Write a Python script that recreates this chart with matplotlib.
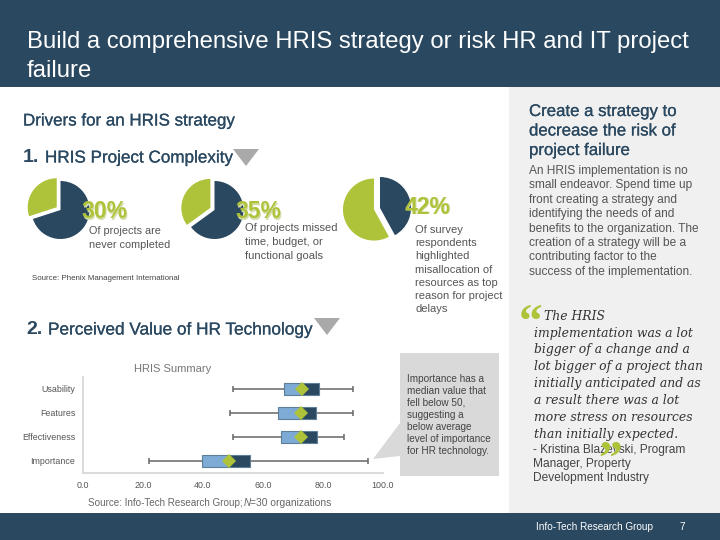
import matplotlib
matplotlib.use("Agg")
import matplotlib.pyplot as plt
from matplotlib.patches import Rectangle, Polygon
import matplotlib.patheffects as pe
import numpy as np

plt.rcParams['font.family'] = ['Liberation Sans', 'DejaVu Sans']

NAVY = '#2a4860'
GREEN = '#aec23a'
LBLUE = '#7dabd6'
GREY = '#666666'
TXT = '#555555'

# pie values: [green share, navy share]
pie_vals = [[30, 70], [35, 65], [58, 42]]
pie_labels = ['30%', '35%', '42%']

# HRIS summary box values
cats = ['Usability', 'Features', 'Effectiveness', 'Importance']
whisk_lo = [50, 49, 50, 22]
q1 = [67, 65, 66, 39.5]
diamond = [73, 72.5, 72.5, 48.8]
q3 = [78.5, 77.5, 78, 55.7]
whisk_hi = [90, 90, 87, 95]
xticks = [0, 20, 40, 60, 80, 100]

fig = plt.figure(figsize=(7.2, 5.4), dpi=100)

def pixel_axes():
    a = fig.add_axes([0, 0, 1, 1])
    a.set_xlim(0, 720)
    a.set_ylim(540, 0)
    a.axis('off')
    return a

bg = pixel_axes()
bg.add_patch(Rectangle((509, 86), 211, 428, color='#f0f0f0', lw=0))
bg.add_patch(Rectangle((0, 0), 720, 87, color=NAVY, lw=0))
bg.add_patch(Rectangle((0, 513), 720, 27, color=NAVY, lw=0))
bg.add_patch(Polygon([(233, 149), (259, 149), (246, 166)], color='#a9a9a9', lw=0))
bg.add_patch(Polygon([(314, 318), (340, 318), (327, 335)], color='#a9a9a9', lw=0))
bg.add_patch(Polygon([(400, 353), (499, 353), (499, 476), (400, 476), (400, 456),
                     (373, 459), (400, 423)], color='#d9d9d9', lw=0))

# pies
def pie(cx, cy, r, vals, gap):
    w = 2.6 * r
    ax = fig.add_axes([(cx - w / 2) / 720, 1 - (cy + w / 2) / 540, w / 720, w / 540])
    ax.pie(vals, colors=[GREEN, NAVY], startangle=90, counterclock=True,
           explode=[gap, 0], radius=1, wedgeprops={'lw': 0})
    ax.set_xlim(-1.3, 1.3)
    ax.set_ylim(-1.3, 1.3)

pie(60.5, 210, 29, pie_vals[0], 0.16)
pie(214.5, 210, 29, pie_vals[1], 0.16)
pie(380, 208, 31, pie_vals[2], 0.2)

# box chart
ax = fig.add_axes([83 / 720, 1 - 473 / 540, 300 / 720, 96 / 540])
y = np.arange(len(cats))
ax.hlines(y, whisk_lo, whisk_hi, color=GREY, lw=1.1, zorder=1)
ax.plot(whisk_lo, y, '|', color=GREY, ms=4.5, mew=1.1, zorder=1)
ax.plot(whisk_hi, y, '|', color=GREY, ms=4.5, mew=1.1, zorder=1)
left = np.array(q1)
mid = np.array(diamond)
ax.barh(y, mid - left, left=left, height=0.5, color=LBLUE, edgecolor='#5f7f99', lw=0.8, zorder=2)
ax.barh(y, np.array(q3) - mid, left=mid, height=0.5, color=NAVY, edgecolor='#5f7f99', lw=0.8, zorder=2)
ax.plot(diamond, y, 'D', color=GREEN, ms=7, mew=0, zorder=3)
ax.set_xlim(0, 100)
ax.set_ylim(3.5, -0.5)
ax.set_yticks(y)
ax.set_yticklabels(cats)
ax.set_xticks(xticks)
ax.set_xticklabels(['%.1f' % v for v in xticks])
ax.tick_params(length=0, labelsize=6.4, labelcolor=TXT)
ax.tick_params(axis='y', pad=5.5)
ax.tick_params(axis='x', pad=6)
for s in ['top', 'right']:
    ax.spines[s].set_visible(False)
for s in ['left', 'bottom']:
    ax.spines[s].set_color('#d9d9d9')
    ax.spines[s].set_linewidth(1.3)
ax.patch.set_alpha(0)

# all slide text goes on top of the pies
fg = pixel_axes()
heavy = [pe.withStroke(linewidth=0.15, foreground=NAVY)]

def put(x, y, s, size, color=TXT, **kw):
    fg.text(x, y, s, fontsize=size, color=color, va='center', ha=kw.pop('ha', 'left'), **kw)

def lines(x, y0, step, rows, size, color=TXT, **kw):
    for i, r in enumerate(rows):
        put(x, y0 + i * step, r, size, color, **kw)

# header, footer
put(27, 42, 'Build a comprehensive HRIS strategy or risk HR and IT project', 17.2, 'white')
put(27, 71, 'failure', 17.2, 'white')
put(536, 527.5, 'Info-Tech Research Group', 7.2, 'white')
put(680, 527.5, '7', 7.2, 'white')

# left headings
put(23, 121, 'Drivers for an HRIS strategy', 12.2, NAVY, path_effects=heavy)
put(23, 158, '1.', 14, NAVY, fontweight='bold')
put(45, 158, 'HRIS Project Complexity', 12.3, NAVY, path_effects=heavy)
put(26, 330, '2.', 14, NAVY, fontweight='bold')
put(48, 330, 'Perceived Value of HR Technology', 12.4, NAVY, path_effects=heavy)

for x, y_, s in zip([81, 235, 405], [212, 212, 207], pie_labels):
    put(x + 1, y_ + 1, s, 16.5, '#d5dca8', fontweight='bold')
    put(x, y_, s, 16.5, GREEN, fontweight='bold')

lines(89, 231, 14, ['Of projects are', 'never completed'], 7.8)
lines(245, 228, 14, ['Of projects missed', 'time, budget, or', 'functional goals'], 8)
lines(415, 230, 13.2, ['Of survey', 'respondents', 'highlighted', 'misallocation of',
                       'resources as top', 'reason for project', 'delays'], 8)
put(32, 279, 'Source: Phenix Management International', 5.65, '#444444')

put(173, 369, 'HRIS Summary', 8, '#777777', ha='center')
put(88, 503.5, 'Source: Info-Tech Research Group;', 7.1, '#666666')
put(244, 503.5, 'N', 7.1, '#666666', fontstyle='italic')
put(250, 503.5, '=30 organizations', 7.4, '#666666')

# callout
lines(407, 378.5, 12.05, ['Importance has a', 'median value that', 'fell below 50,', 'suggesting a',
                          'below average', 'level of importance', 'for HR technology.'], 7.2, '#444444')

# right column
lines(529, 111.5, 19.5, ['Create a strategy to', 'decrease the risk of', 'project failure'],
      12.1, NAVY, path_effects=heavy)
lines(529, 171, 14.4, ['An HRIS implementation is no', 'small endeavor. Spend time up',
                       'front creating a strategy and', 'identifying the needs of and',
                       'benefits to the organization. The', 'creation of a strategy will be a',
                       'contributing factor to the', 'success of the implementation.'], 8.6)

quote = ['The HRIS', 'implementation was a lot', 'bigger of a change and a',
         'lot bigger of a project than', 'initially anticipated and as',
         'a result there was a lot', 'more stress on resources', 'than initially expected.']
put(544, 316, quote[0], 8.9, '#333333', family='DejaVu Serif', fontstyle='italic')
lines(534, 333, 16.9, quote[1:], 8.9, '#333333', family='DejaVu Serif', fontstyle='italic')
lines(533, 450, 14, ['- Kristina Blazevski, Program', 'Manager, Property', 'Development Industry'], 8.6, '#444444')
put(519, 325, '\u201c', 34, GREEN, family='Liberation Serif', fontweight='bold')
put(598, 462, '\u201d', 34, GREEN, family='Liberation Serif', fontweight='bold')

fig.savefig('out.png', dpi=100)
